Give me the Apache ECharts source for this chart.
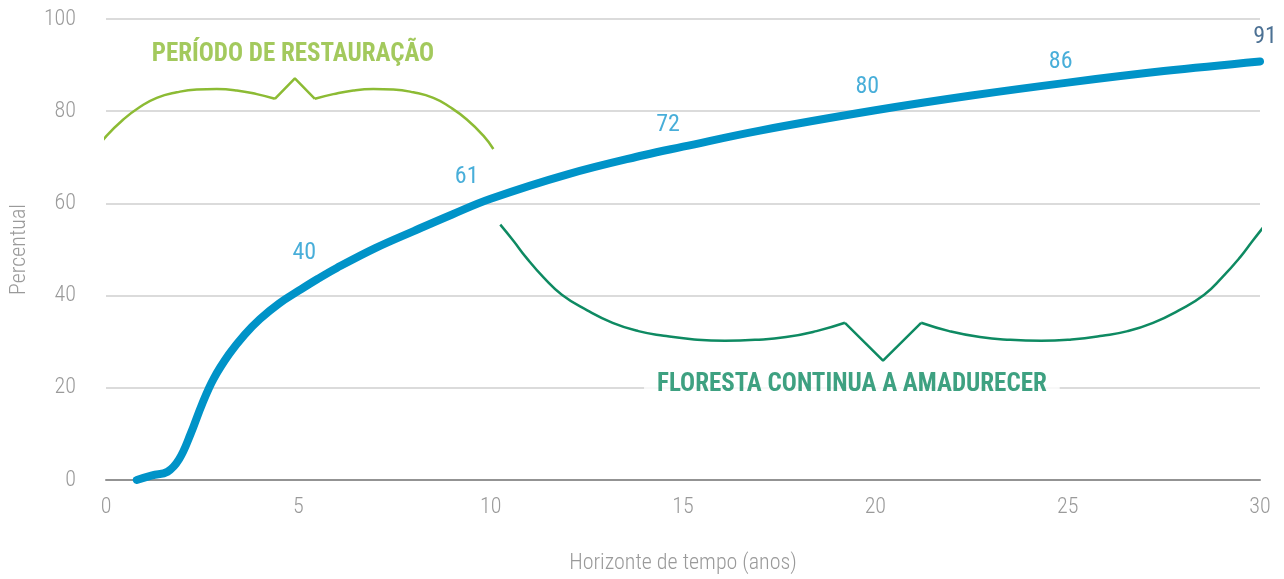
<!DOCTYPE html>
<html>
<head>
<meta charset="utf-8">
<script src="https://cdn.jsdelivr.net/npm/echarts@6/dist/echarts.min.js"></script>
<style>
  html, body { margin: 0; padding: 0; background: #fff; }
  #chart { width: 1284px; height: 579px; }
</style>
</head>
<body>
<div id="chart"></div>
<script>
// curva de maturação da floresta (anos x percentual)
var years = [0.8, 1.2, 1.6, 1.9, 2.2, 2.5, 2.8, 3.2, 3.6, 4.0, 4.5, 5, 5.5, 6, 7, 8, 9, 10, 12, 14, 15, 17, 20, 22.5, 25, 27.5, 30];
var percent = [0, 1, 1.8, 4.5, 10, 16.5, 22, 27.3, 31.5, 34.9, 38.3, 41, 43.6, 46, 50.3, 54, 57.6, 61, 66.3, 70.5, 72.3, 75.8, 80.2, 83.4, 86.2, 88.7, 90.8];

// valores destacados
var markYears = [5, 10, 15, 20, 25, 30];
var markValues = [40, 61, 72, 80, 86, 91];

// chaves
var restLeftX = [-0.24, 0.02, 0.45, 0.88, 1.32, 1.84, 2.36, 2.88, 3.40, 3.92, 4.39];
var restLeftY = [71.8, 74.7, 78.2, 80.9, 82.9, 84.1, 84.7, 84.8, 84.5, 83.7, 82.7];
var restNotchX = [4.39, 4.91, 5.43];
var restNotchY = [82.7, 87.1, 82.7];
var restRightX = [5.43, 5.91, 6.43, 6.95, 7.47, 7.99, 8.51, 8.94, 9.38, 9.81, 10.07];
var restRightY = [82.7, 83.7, 84.5, 84.8, 84.7, 84.1, 82.9, 80.9, 78.2, 74.7, 71.8];

var matLeftX = [10.25, 10.59, 10.92, 11.38, 11.85, 12.51, 13.17, 13.84, 14.50, 15.29, 16.09, 16.88, 17.68, 18.47, 19.21];
var matLeftY = [55.4, 51.9, 48.3, 43.9, 40.2, 36.8, 34.1, 32.3, 31.3, 30.5, 30.2, 30.4, 31.0, 32.3, 34.1];
var matNotchX = [19.21, 20.20, 21.19];
var matNotchY = [34.1, 25.9, 34.1];
var matRightX = [21.19, 21.92, 22.72, 23.51, 24.31, 25.10, 25.90, 26.56, 27.22, 27.89, 28.55, 29.01, 29.48, 29.81, 30.14];
var matRightY = [34.1, 32.3, 31.0, 30.4, 30.2, 30.5, 31.3, 32.3, 34.1, 36.8, 40.2, 43.9, 48.3, 51.9, 55.4];

var yTicks = [0, 20, 40, 60, 80, 100];

var font = '"Roboto Condensed", "Roboto", sans-serif';
var labelOffsets = [[6, -43], [-24, -22], [-15, -23], [-8, -24], [-7, -22], [5, -23]];

function zip (xs, ys) {
  return xs.map(function (x, i) { return [x, ys[i]]; });
}

function braceSeries (xs, ys, color, smooth) {
  return {
    type: 'line',
    data: zip(xs, ys),
    smooth: smooth,
    symbol: 'none',
    clip: false,
    lineStyle: { color: color, width: 2.5 },
    z: 1
  };
}

var chart = echarts.init(document.getElementById('chart'));
var light = '#8cbb34';
var dark = '#0e8a62';
var gray = '#9a9a9a';

chart.setOption({
  animation: false,
  grid: { left: 106, right: 24, top: 19, bottom: 96 },
  xAxis: {
    type: 'value',
    min: 0, max: 30, interval: 5,
    name: 'Horizonte de tempo (anos)',
    nameLocation: 'middle',
    nameGap: 72,
    nameTextStyle: { color: gray, fontSize: 22, fontWeight: 300, fontFamily: font },
    axisLine: { show: true, lineStyle: { color: '#939393', width: 2 } },
    axisTick: { show: false },
    splitLine: { show: false },
    axisLabel: { color: gray, fontSize: 22, fontWeight: 300, fontFamily: font, margin: 16 }
  },
  yAxis: {
    type: 'value',
    min: yTicks[0], max: yTicks[yTicks.length - 1], interval: 20,
    name: 'Percentual',
    nameLocation: 'middle',
    nameGap: 76,
    nameTextStyle: { color: gray, fontSize: 22, fontWeight: 300, fontFamily: font },
    axisLine: { show: false },
    axisTick: { show: false },
    splitLine: { lineStyle: { color: '#cfcfcf', width: 1.5 } },
    axisLabel: { color: gray, fontSize: 22, fontWeight: 300, fontFamily: font, margin: 30 }
  },
  series: [
    braceSeries(restLeftX, restLeftY, light, 0.5),
    braceSeries(restNotchX, restNotchY, light, false),
    braceSeries(restRightX, restRightY, light, 0.5),
    braceSeries(matLeftX, matLeftY, dark, 0.5),
    braceSeries(matNotchX, matNotchY, dark, false),
    braceSeries(matRightX, matRightY, dark, 0.5),
    {
      type: 'line',
      data: zip(years, percent),
      smooth: 0.4,
      symbol: 'none',
      clip: false,
      lineStyle: { color: '#0093c8', width: 8, cap: 'round', join: 'round' },
      z: 3
    },
    {
      type: 'scatter',
      symbolSize: 0,
      z: 4,
      data: markYears.map(function (x, i) {
        return {
          value: [x, markValues[i]],
          label: {
            offset: labelOffsets[i],
            color: i === markYears.length - 1 ? '#1f4e79' : '#1a9ad0'
          }
        };
      }),
      label: {
        show: true,
        position: 'inside',
        fontSize: 24,
        fontFamily: font,
        backgroundColor: '#fff',
        padding: [0, 4],
        formatter: function (p) { return p.value[1]; }
      }
    },
    {
      type: 'scatter',
      symbolSize: 0,
      z: 4,
      data: [
        { value: [4.86, 92.2], label: { formatter: 'PERÍODO DE RESTAURAÇÃO', color: light } },
        { value: [19.39, 20.7], label: { formatter: 'FLORESTA CONTINUA A AMADURECER', color: dark, backgroundColor: '#fff', padding: [2, 13] } }
      ],
      label: {
        show: true,
        position: 'inside',
        fontSize: 25,
        fontWeight: 'bold',
        fontFamily: font
      }
    }
  ]
});
</script>
</body>
</html>
